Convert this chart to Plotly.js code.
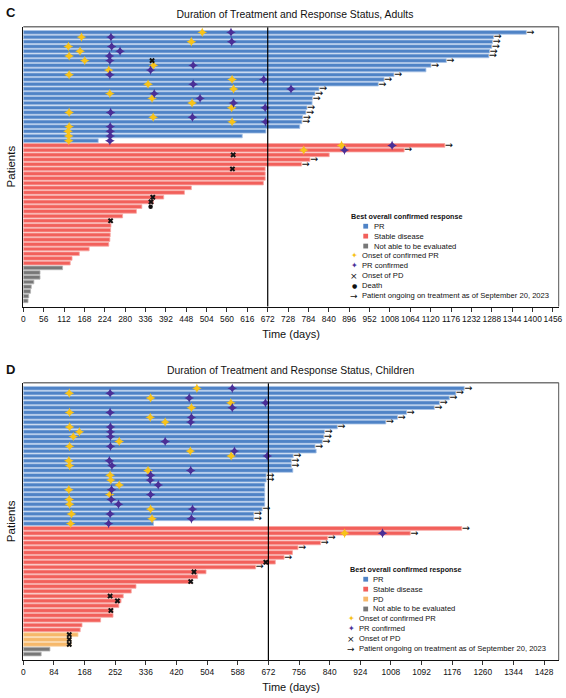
<!DOCTYPE html>
<html><head><meta charset="utf-8">
<script src="https://cdn.plot.ly/plotly-3.0.1.min.js"></script>
<style>html,body{margin:0;padding:0;background:#fff}#chart{width:566px;height:698px}</style>
</head><body><div id="chart"></div>
<script>
// ================= DATA =================
// Panel C: Adults (one entry per patient, top to bottom)
const adultDays = [1383,1293,1290,1288,1282,1280,1163,1121,1107,1019,992,976,813,802,795,794,780,777,768,766,760,667,602,206,
  1159,1047,841,788,765,665,665,665,660,462,443,386,358,326,311,273,243,241,240,239,238,235,181,154,134,129,
  108,46,46,29,22,20,15,13];
const adultResp = ['PR','PR','PR','PR','PR','PR','PR','PR','PR','PR','PR','PR','PR','PR','PR','PR','PR','PR','PR','PR','PR','PR','PR','PR',
  'SD','SD','SD','SD','SD','SD','SD','SD','SD','SD','SD','SD','SD','SD','SD','SD','SD','SD','SD','SD','SD','SD','SD','SD','SD','SD',
  'NE','NE','NE','NE','NE','NE','NE','NE'];
const adultOnsetPR = [492,160,462,124,156,126,169,358,235,126,574,343,578,238,354,464,573,126,357,574,126,123,125,125,
  875,771,null,null,null,null,null,null,null,null,null,null,null,null,null,null,null,null,null,null,null,null,null,null,null,null,
  null,null,null,null,null,null,null,null];
const adultPRConfirmed = [571,241,573,243,266,237,238,467,350,238,661,467,736,360,486,578,665,240,465,666,239,239,239,238,
  1014,883,null,null,null,null,null,null,null,null,null,null,null,null,null,null,null,null,null,null,null,null,null,null,null,null,
  null,null,null,null,null,null,null,null];
const adultOnsetPD = [null,null,null,null,null,null,354,null,null,null,null,null,null,null,null,null,null,null,null,null,null,null,null,null,
  null,null,577,null,null,575,null,null,null,null,null,356,351,null,null,null,240,null,null,null,null,null,null,null,null,null,
  null,null,null,null,null,null,null,null];
const adultDeath = [null,null,null,null,null,null,null,null,null,null,null,null,null,null,null,null,null,null,null,null,null,null,null,null,
  null,null,null,null,null,null,null,null,null,null,null,null,null,350,null,null,null,null,null,null,null,null,null,null,null,null,
  null,null,null,null,null,null,null,null];
const adultOngoing = [1,1,1,1,1,1,1,1,0,1,1,1,1,1,1,0,1,1,1,1,0,0,0,0,
  1,1,0,1,1,0,0,0,0,0,0,0,0,0,0,0,0,0,0,0,0,0,0,0,0,0,
  0,0,0,0,0,0,0,0];

// Panel D: Children
const childDays = [1209,1186,1168,1141,1127,1051,1026,994,861,826,824,820,800,803,740,735,735,739,666,666,662,662,662,662,662,655,632,632,357,
  1202,1061,834,815,753,738,715,691,637,501,478,462,309,296,274,268,262,246,246,212,161,156,
  150,131,131,
  73,49];
const childResp = ['PR','PR','PR','PR','PR','PR','PR','PR','PR','PR','PR','PR','PR','PR','PR','PR','PR','PR','PR','PR','PR','PR','PR','PR','PR','PR','PR','PR','PR',
  'SD','SD','SD','SD','SD','SD','SD','SD','SD','SD','SD','SD','SD','SD','SD','SD','SD','SD','SD','SD','SD','SD',
  'PD','PD','PD',
  'NE','NE'];
const childOnsetPR = [476,126,349,569,461,127,348,389,127,154,137,263,127,458,570,125,127,342,238,240,263,125,237,126,127,349,132,353,130,
  null,881,null,null,null,null,null,null,null,null,null,null,null,null,null,null,null,null,null,null,null,null,
  null,null,null,
  null,null];
const childPRConfirmed = [573,238,455,664,573,238,461,459,239,239,239,389,239,579,669,236,243,459,349,348,370,242,349,241,261,464,238,461,234,
  null,985,null,null,null,null,null,null,null,null,null,null,null,null,null,null,null,null,null,null,null,null,
  null,null,null,
  null,null];
const childOnsetPD = [null,null,null,null,null,null,null,null,null,null,null,null,null,null,null,null,null,null,null,null,null,null,null,null,null,null,null,null,null,
  null,null,null,null,null,null,null,665,null,468,null,459,null,null,238,258,null,240,null,null,null,null,
  126,126,126,
  null,null];
const childOngoing = [1,1,1,1,1,1,1,1,1,1,1,1,1,0,1,1,1,0,1,1,0,0,0,0,0,1,1,1,0,
  1,1,1,1,1,0,1,0,1,0,0,0,0,0,0,0,0,0,0,0,0,0,
  0,0,0,
  0,0];

const adultTicks = [0,56,112,168,224,280,336,392,448,504,560,616,672,728,784,840,896,952,1008,1064,1120,1176,1232,1288,1344,1400,1456];
const childTicks = [0,84,168,252,336,420,504,588,672,756,840,924,1008,1092,1176,1260,1344,1428];
const cutoffDay = 672;

const adultLegendBars = [['PR','PR'],['SD','Stable disease'],['NE','Not able to be evaluated']];
const childLegendBars = [['PR','PR'],['SD','Stable disease'],['PD','PD'],['NE','Not able to be evaluated']];
const adultLegendMarks = [['onset','Onset of confirmed PR'],['conf','PR confirmed'],['pd','Onset of PD'],['death','Death'],['arrow','Patient ongoing on treatment as of September 20, 2023']];
const childLegendMarks = [['onset','Onset of confirmed PR'],['conf','PR confirmed'],['pd','Onset of PD'],['arrow','Patient ongoing on treatment as of September 20, 2023']];

// ================= STYLE =================
const FONT = "'Liberation Sans',Arial,sans-serif";
const respStyle = {
  PR: {color:'#4f83c6', edge:'#a9c4e7'},
  SD: {color:'#f2605b', edge:'#f8a7a3'},
  PD: {color:'#f6b86a', edge:'#fad6a6'},
  NE: {color:'#777777', edge:'#b5b5b5'}
};
const YEL = '#f7c21a', PUR = '#4a2f97';
const W = 566, H = 698;
const px = v => v / W, py = v => 1 - v / H;

function pick(arr) { const ix = []; arr.forEach((v, i) => { if (v !== null && v !== 0) ix.push(i); }); return ix; }

function panel(days, resp, onset, conf, pd, death, ongoing, xa, ya) {
  const tr = [];
  ['PR','SD','PD','NE'].forEach(cat => {
    const ix = []; resp.forEach((r, i) => { if (r === cat) ix.push(i); });
    if (!ix.length) return;
    tr.push({type:'bar', orientation:'h', x: ix.map(i => days[i]), y: ix, width: 0.78,
      marker:{color: respStyle[cat].color, line:{color: respStyle[cat].edge, width: 0.8}},
      xaxis: xa, yaxis: ya, hoverinfo:'skip', showlegend:false});
  });
  let ix = pick(onset);
  tr.push({type:'scatter', mode:'markers', x: ix.map(i => onset[i]), y: ix, xaxis: xa, yaxis: ya,
    marker:{symbol:'star-diamond', size:7, color:YEL, line:{width:0}}, hoverinfo:'skip', showlegend:false, cliponaxis:false});
  ix = pick(conf);
  tr.push({type:'scatter', mode:'markers', x: ix.map(i => conf[i]), y: ix, xaxis: xa, yaxis: ya,
    marker:{symbol:'star-diamond', size:7, color:PUR, line:{width:0}}, hoverinfo:'skip', showlegend:false, cliponaxis:false});
  ix = pick(pd);
  tr.push({type:'scatter', mode:'markers', x: ix.map(i => pd[i]), y: ix, xaxis: xa, yaxis: ya,
    marker:{symbol:'x', size:5, color:'#111', line:{width:0}}, hoverinfo:'skip', showlegend:false, cliponaxis:false});
  if (death) {
    ix = pick(death);
    tr.push({type:'scatter', mode:'markers', x: ix.map(i => death[i]), y: ix, xaxis: xa, yaxis: ya,
      marker:{symbol:'circle', size:4.5, color:'#111'}, hoverinfo:'skip', showlegend:false, cliponaxis:false});
  }
  ix = pick(ongoing);
  tr.push({type:'scatter', mode:'text', x: ix.map(i => days[i]), y: ix, xaxis: xa, yaxis: ya,
    text: ix.map(() => '→'), textposition:'middle right', marker:{size:1},
    textfont:{family:'DejaVu Sans', size:9.5, color:'#111'}, hoverinfo:'skip', showlegend:false, cliponaxis:false});
  return tr;
}

const data = [].concat(
  panel(adultDays, adultResp, adultOnsetPR, adultPRConfirmed, adultOnsetPD, adultDeath, adultOngoing, 'x', 'y'),
  panel(childDays, childResp, childOnsetPR, childPRConfirmed, childOnsetPD, null, childOngoing, 'x2', 'y2')
);

// ================= LAYOUT =================
const annotations = [];
const shapes = [];
function txt(x, y, text, opts) {
  annotations.push(Object.assign({xref:'paper', yref:'paper', x: px(x), y: py(y), text, showarrow:false,
    xanchor:'left', yanchor:'middle', borderpad:0, font:{family:FONT, size:7.6, color:'#111'}}, opts || {}));
}
const markGlyph = {
  onset: ['✦', YEL, 8], conf: ['✦', PUR, 8], pd: ['×', '#111', 9], death: ['●', '#111', 6], arrow: ['→', '#111', 9]
};
function legend(hx, hy, bars, marks, step, sqX, sqTx, mkX, mkTx) {
  txt(hx, hy, '<b>Best overall confirmed response</b>', {font:{family:FONT, size:7.2, color:'#111'}});
  let y = hy + step;
  bars.forEach(([cat, label]) => {
    shapes.push({type:'rect', xref:'paper', yref:'paper', x0: px(sqX - 2.4), x1: px(sqX + 2.4), y0: py(y + 2.4), y1: py(y - 2.4),
      fillcolor: respStyle[cat].color, line:{width:0}});
    txt(sqTx, y, label);
    y += step;
  });
  marks.forEach(([k, label]) => {
    const g = markGlyph[k];
    txt(mkX, y, g[0], {xanchor:'center', font:{family:'DejaVu Sans', size:g[2], color:g[1]}});
    txt(mkTx, y, label);
    y += step;
  });
}
legend(350, 216.3, adultLegendBars, adultLegendMarks, 9.92, 365.7, 372.7, 354.3, 360.7);
legend(349, 569.3, childLegendBars, childLegendMarks, 9.92, 365.7, 372.3, 351, 357.7);

txt(5, 12.5, '<b>C</b>', {font:{family:FONT, size:13, color:'#111'}});
txt(5, 369, '<b>D</b>', {font:{family:FONT, size:13, color:'#111'}});
txt(290.5, 370, 'Duration of Treatment and Response Status, Children', {xanchor:'center', font:{family:FONT, size:10.4, color:'#111'}});

['', '2'].forEach(s => {
  shapes.push({type:'line', xref:'x' + s, yref:'y' + s + ' domain', x0: cutoffDay, x1: cutoffDay, y0: 0, y1: 1, line:{color:'#000', width:1.2}});
  shapes.push({type:'line', xref:'x' + s + ' domain', yref:'y' + s + ' domain', x0: 0, x1: 1, y0: 1, y1: 1, line:{color:'#777', width:1.6}});
  shapes.push({type:'line', xref:'x' + s + ' domain', yref:'y' + s + ' domain', x0: 1, x1: 1, y0: 0, y1: 1, line:{color:'#555', width:1}});
});

function xAxis(ticks, range, anchor) {
  return {domain:[px(23.3), px(558.7)], range, anchor, tickmode:'array', tickvals: ticks, ticktext: ticks.map(String),
    ticks:'outside', ticklen:4, tickcolor:'#333', tickwidth:1, tickangle:0, showline:true, linecolor:'#111', linewidth:1,
    showgrid:false, zeroline:false, fixedrange:true,
    tickfont:{family:FONT, size:8.4, color:'#111'},
    title:{text:'Time (days)', font:{family:FONT, size:11, color:'#111'}, standoff:7}};
}
function yAxis(dom, range, anchor) {
  return {domain: dom, range, anchor, showticklabels:false, ticks:'', showgrid:false, zeroline:false,
    showline:true, linecolor:'#111', linewidth:1, fixedrange:true,
    title:{text:'Patients', font:{family:FONT, size:11.5, color:'#111'}, standoff:4}};
}

const layout = {
  width: W, height: H, margin:{l:0, r:0, t:0, b:0}, paper_bgcolor:'#fff', plot_bgcolor:'#fff',
  showlegend:false, barmode:'overlay', hovermode:false,
  font:{family:FONT, color:'#222'},
  title:{text:'Duration of Treatment and Response Status, Adults', x: px(295), xanchor:'center', y: py(14), yanchor:'middle',
    font:{family:FONT, size:10.4, color:'#111'}},
  xaxis: xAxis(adultTicks, [0, 1472], 'y'),
  yaxis: yAxis([py(306.5), py(26.7)], [58.2, -1.2], 'x'),
  xaxis2: xAxis(childTicks, [0, 1468], 'y2'),
  yaxis2: yAxis([py(660), py(382.7)], [56.24, -1.16], 'x2'),
  shapes, annotations
};

Plotly.newPlot('chart', data, layout, {displayModeBar:false, staticPlot:true});
</script></body></html>
